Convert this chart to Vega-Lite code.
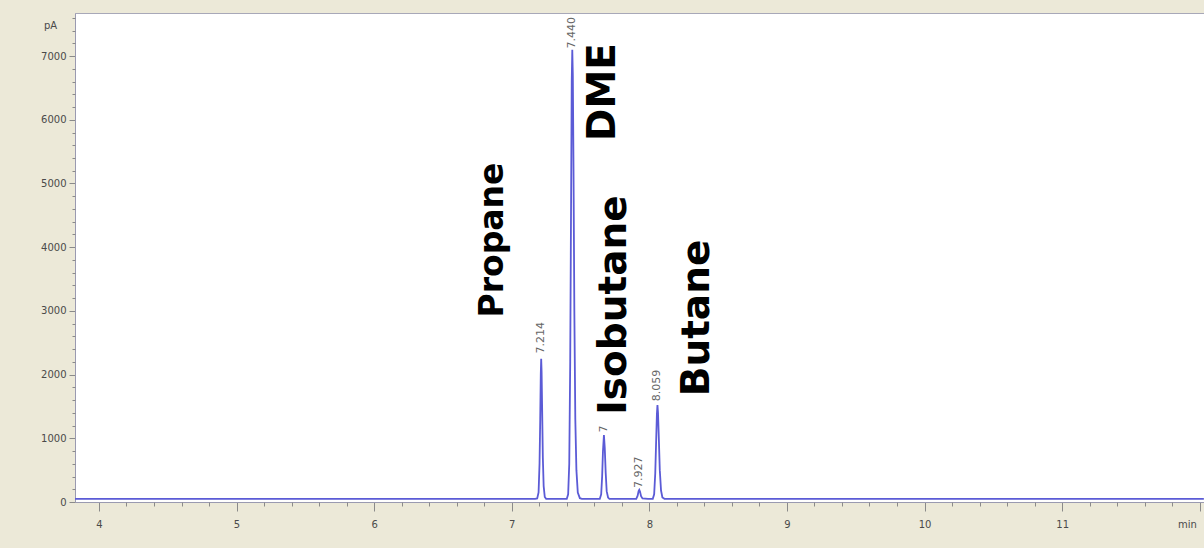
{
  "$schema": "https://vega.github.io/schema/vega-lite/v6.json",
  "width": 1129,
  "height": 489,
  "autosize": "none",
  "padding": {"left": 75, "top": 13, "right": 0, "bottom": 46},
  "background": "#ECE9D8",
  "config": {
    "view": {"fill": "white", "stroke": "#A8A8B8", "strokeWidth": 1},
    "axis": {"grid": false, "labelFont": "DejaVu Sans", "labelFontSize": 10, "labelColor": "#4A4A4A", "tickColor": "#8A8A8A", "domainColor": "#9A9AB0", "titleFont": "DejaVu Sans", "titleFontSize": 10, "titleColor": "#4A4A4A", "titleFontWeight": "normal"}
  },
  "datasets": {
    "signal": [
      {"t": 3.826, "pA": 50}, {"t": 7.17, "pA": 50},
      {"t": 7.185, "pA": 55}, {"t": 7.195, "pA": 150}, {"t": 7.202, "pA": 600}, {"t": 7.207, "pA": 1300}, {"t": 7.211, "pA": 2000}, {"t": 7.214, "pA": 2250}, {"t": 7.217, "pA": 2050}, {"t": 7.221, "pA": 1450}, {"t": 7.226, "pA": 700}, {"t": 7.232, "pA": 250}, {"t": 7.24, "pA": 80}, {"t": 7.25, "pA": 50},
      {"t": 7.40, "pA": 50}, {"t": 7.41, "pA": 120}, {"t": 7.418, "pA": 600}, {"t": 7.425, "pA": 2200}, {"t": 7.431, "pA": 4600}, {"t": 7.436, "pA": 6600}, {"t": 7.44, "pA": 7100}, {"t": 7.444, "pA": 6700}, {"t": 7.449, "pA": 5200}, {"t": 7.455, "pA": 3000}, {"t": 7.462, "pA": 1300}, {"t": 7.47, "pA": 500}, {"t": 7.48, "pA": 150}, {"t": 7.495, "pA": 60}, {"t": 7.51, "pA": 50},
      {"t": 7.64, "pA": 50}, {"t": 7.65, "pA": 120}, {"t": 7.657, "pA": 400}, {"t": 7.663, "pA": 800}, {"t": 7.67, "pA": 1050}, {"t": 7.676, "pA": 850}, {"t": 7.683, "pA": 450}, {"t": 7.69, "pA": 170}, {"t": 7.70, "pA": 70}, {"t": 7.71, "pA": 50},
      {"t": 7.905, "pA": 50}, {"t": 7.915, "pA": 100}, {"t": 7.922, "pA": 170}, {"t": 7.927, "pA": 190}, {"t": 7.932, "pA": 165}, {"t": 7.94, "pA": 90}, {"t": 7.95, "pA": 55}, {"t": 7.99, "pA": 50},
      {"t": 8.025, "pA": 50}, {"t": 8.035, "pA": 120}, {"t": 8.043, "pA": 450}, {"t": 8.05, "pA": 1000}, {"t": 8.055, "pA": 1380}, {"t": 8.059, "pA": 1520}, {"t": 8.063, "pA": 1400}, {"t": 8.069, "pA": 1000}, {"t": 8.076, "pA": 500}, {"t": 8.085, "pA": 180}, {"t": 8.095, "pA": 70}, {"t": 8.11, "pA": 50},
      {"t": 12.03, "pA": 50}
    ],
    "rt": [
      {"t": 7.214, "pA": 2330, "label": "7.214"},
      {"t": 7.44, "pA": 7120, "label": "7.440"},
      {"t": 7.67, "pA": 1090, "label": "7"},
      {"t": 7.927, "pA": 220, "label": "7.927"},
      {"t": 8.059, "pA": 1580, "label": "8.059"}
    ],
    "names1": [
      {"t": 6.863, "pA": 4113, "name": "Propane"}
    ],
    "names2": [
      {"t": 7.663, "pA": 6436, "name": "DME"},
      {"t": 7.743, "pA": 3093, "name": "Isobutane"},
      {"t": 8.346, "pA": 2889, "name": "Butane"}
    ]
  },
  "resolve": {"axis": {"x": "independent", "y": "independent"}},
  "layer": [
    {
      "data": {"name": "signal"},
      "mark": {"type": "line", "color": "#5B5BD6", "strokeWidth": 1.8, "interpolate": "linear"},
      "encoding": {
        "x": {"field": "t", "type": "quantitative", "scale": {"domain": [3.826, 12.031], "nice": false, "zero": false},
              "axis": {"orient": "bottom", "values": [4, 5, 6, 7, 8, 9, 10, 11, 12], "labelExpr": "datum.value == 12 ? '' : datum.label", "tickSize": 9, "labelPadding": 8, "title": "min", "titleX": 1112, "titleY": 22, "titleAlign": "center", "titleBaseline": "middle"}},
        "y": {"field": "pA", "type": "quantitative", "scale": {"domain": [0, 7676], "nice": false},
              "axis": {"orient": "left", "format": "d", "values": [0, 1000, 2000, 3000, 4000, 5000, 6000, 7000], "tickSize": 6, "labelPadding": 3, "title": "pA", "titleAngle": 0, "titleX": -25, "titleY": 12, "titleAlign": "center", "titleBaseline": "middle"}}
      }
    },
    {
      "data": {"name": "rt"},
      "mark": {"type": "text", "angle": 270, "align": "left", "baseline": "middle", "font": "DejaVu Sans", "fontSize": 11, "color": "#666666"},
      "encoding": {
        "x": {"field": "t", "type": "quantitative", "scale": {"domain": [3.826, 12.031], "nice": false, "zero": false},
              "axis": {"orient": "bottom", "values": [4.2,4.4,4.6,4.8,5.2,5.4,5.6,5.8,6.2,6.4,6.6,6.8,7.2,7.4,7.6,7.8,8.2,8.4,8.6,8.8,9.2,9.4,9.6,9.8,10.2,10.4,10.6,10.8,11.2,11.4,11.6,11.8], "labels": false, "tickSize": 4, "domain": false, "title": null}},
        "y": {"field": "pA", "type": "quantitative", "scale": {"domain": [0, 7676], "nice": false},
              "axis": {"orient": "left", "values": [200,400,600,800,1200,1400,1600,1800,2200,2400,2600,2800,3200,3400,3600,3800,4200,4400,4600,4800,5200,5400,5600,5800,6200,6400,6600,6800,7200,7400,7600], "labels": false, "tickSize": 3, "domain": false, "title": null}},
        "text": {"field": "label"}
      }
    },
    {
      "data": {"name": "names1"},
      "mark": {"type": "text", "angle": 270, "align": "center", "baseline": "middle", "font": "DejaVu Sans", "fontWeight": "bold", "fontSize": 33, "color": "#000000"},
      "encoding": {
        "x": {"field": "t", "type": "quantitative", "scale": {"domain": [3.826, 12.031], "nice": false, "zero": false}, "axis": null},
        "y": {"field": "pA", "type": "quantitative", "scale": {"domain": [0, 7676], "nice": false}, "axis": null},
        "text": {"field": "name"}
      }
    },
    {
      "data": {"name": "names2"},
      "mark": {"type": "text", "angle": 270, "align": "center", "baseline": "middle", "font": "DejaVu Sans", "fontWeight": "bold", "fontSize": 39, "color": "#000000"},
      "encoding": {
        "x": {"field": "t", "type": "quantitative", "scale": {"domain": [3.826, 12.031], "nice": false, "zero": false}, "axis": null},
        "y": {"field": "pA", "type": "quantitative", "scale": {"domain": [0, 7676], "nice": false}, "axis": null},
        "text": {"field": "name"}
      }
    }
  ]
}
